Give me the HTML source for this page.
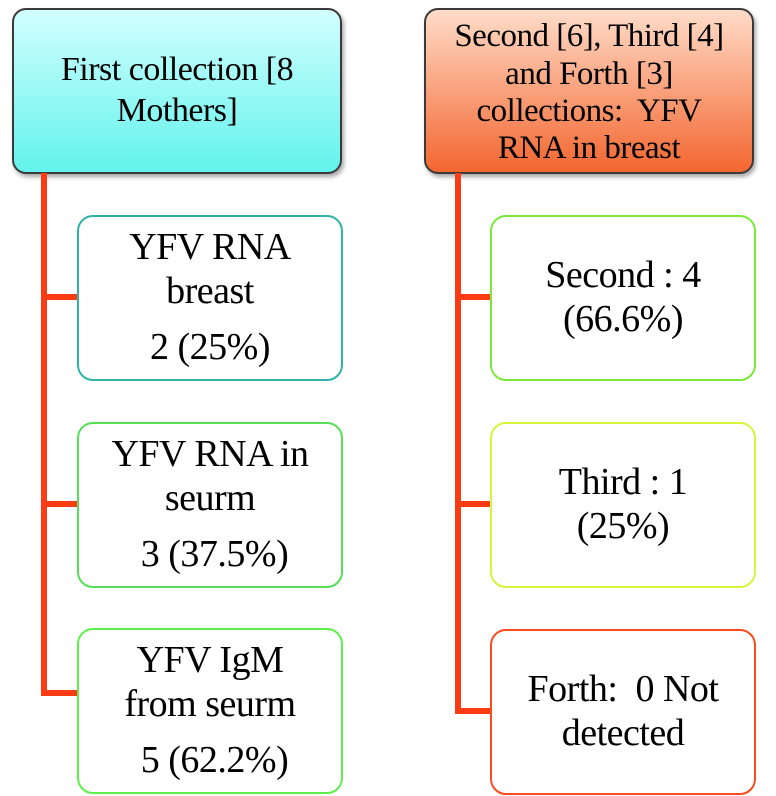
<!DOCTYPE html>
<html><head><style>
body{margin:0;width:776px;height:796px;background:#fff;position:relative;font-family:"Liberation Serif",serif;overflow:hidden}
.b{position:absolute;box-sizing:border-box;display:flex;align-items:center;justify-content:center;text-align:center;color:#000;line-height:1.15;letter-spacing:-0.5px}
.h{border:2px solid #3a3a3a;border-radius:14px;font-size:34px;line-height:1.2;box-shadow:2px 3px 4px rgba(0,0,0,.35)}
.c{background:#fff;border:2px solid;border-radius:16px;font-size:38px;width:266px;height:166px}
.l{position:absolute;background:#fa3c14}
</style></head><body>
<div class="b h" style="left:12px;top:8px;width:330px;height:166px;background:linear-gradient(#d2ffff,#62f3ec)">First collection [8<br>Mothers]</div>
<div class="b h" style="left:424px;top:8px;width:330px;height:166px;background:linear-gradient(#ffdcc8,#f3662f);font-size:33px;line-height:1.13;padding-top:4px">Second [6], Third [4]<br>and Forth [3]<br>collections:&nbsp; YFV<br>RNA in breast</div>
<div class="l" style="left:41px;top:173px;width:6px;height:523px"></div>
<div class="l" style="left:41px;top:294px;width:37px;height:6px"></div>
<div class="l" style="left:41px;top:501px;width:37px;height:6px"></div>
<div class="l" style="left:41px;top:690px;width:37px;height:6px"></div>
<div class="l" style="left:455px;top:173px;width:6px;height:541px"></div>
<div class="l" style="left:455px;top:294px;width:37px;height:6px"></div>
<div class="l" style="left:455px;top:501px;width:37px;height:6px"></div>
<div class="l" style="left:455px;top:708px;width:37px;height:6px"></div>
<div class="b c" style="left:77px;top:215px;border-color:#2fb3a8;flex-direction:column">YFV RNA<br>breast<div style="margin-top:12px">2 (25%)</div></div>
<div class="b c" style="left:77px;top:422px;border-color:#56e05a;flex-direction:column">YFV RNA in<br>seurm<div style="margin-top:12px">&nbsp;3 (37.5%)</div></div>
<div class="b c" style="left:77px;top:628px;border-color:#5ef04a;flex-direction:column">YFV IgM<br>from seurm<div style="margin-top:12px">&nbsp;5 (62.2%)</div></div>
<div class="b c" style="left:490px;top:215px;border-color:#7ee83a">Second : 4<br>(66.6%)</div>
<div class="b c" style="left:490px;top:422px;border-color:#d6f53a">Third : 1<br>(25%)</div>
<div class="b c" style="left:490px;top:629px;border-color:#fa4a1e">Forth:&nbsp; 0 Not<br>detected</div>
</body></html>
